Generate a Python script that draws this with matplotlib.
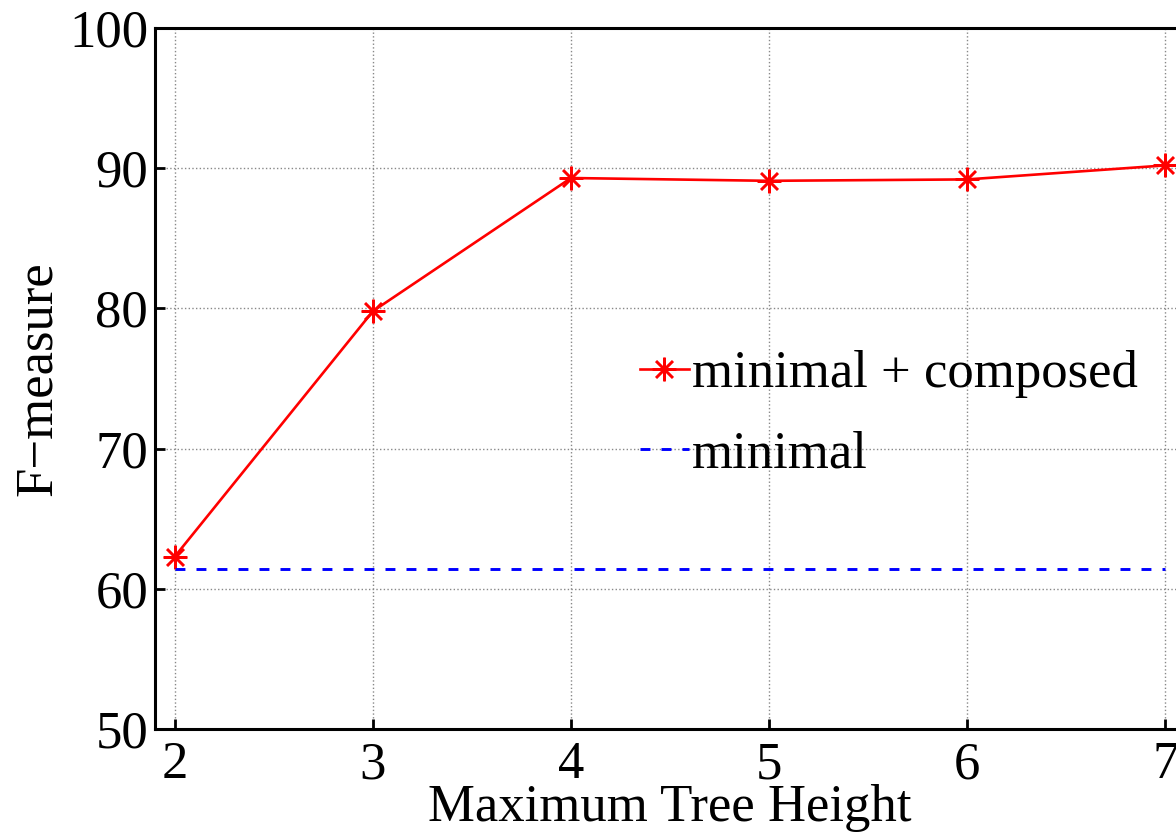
import matplotlib
matplotlib.use("Agg")
import matplotlib.pyplot as plt

heights = [2, 3, 4, 5, 6, 7]
composed = [62.3, 79.8, 89.3, 89.1, 89.2, 90.2]
minimal = [61.4, 61.4, 61.4, 61.4, 61.4, 61.4]
xticks = [2, 3, 4, 5, 6, 7]
yticks = [50, 60, 70, 80, 90, 100]

plt.rcParams['font.family'] = ['Liberation Serif', 'DejaVu Serif']

fig = plt.figure(figsize=(11.76, 8.36), dpi=100)
ax = fig.add_axes([155/1176, 107/836, 1030/1176, 701/836])

ax.plot(heights, composed, color='red', lw=1.9, marker=(8, 2, 0),
        markersize=17, markeredgewidth=1.8, label='minimal + composed')
ax.plot(heights, minimal, color='blue', lw=2.1, ls=(0, (3.4, 3.8)), label='minimal')

ax.set_xlim(1.9, 7.1)
ax.set_ylim(50, 100)
ax.set_xticks(xticks)
ax.set_yticks(yticks)
ax.grid(True, ls=':', color='#888888', lw=1.0)
ax.tick_params(direction='in', length=7, width=2, labelsize=38)
ax.tick_params(axis='x', pad=9)
ax.tick_params(axis='y', pad=5)
for s in ax.spines.values():
    s.set_linewidth(2.2)

ax.set_xlabel('Maximum Tree Height', fontsize=38, labelpad=-4)
ax.set_ylabel('F\u2212measure', fontsize=38, labelpad=5)

leg = ax.legend(loc='center left', bbox_to_anchor=(0.471, 0.449), frameon=False,
                fontsize=38, borderpad=0, borderaxespad=0, handlelength=0.92,
                handletextpad=0.06, labelspacing=0.6)

fig.savefig('out.png', dpi=100)
